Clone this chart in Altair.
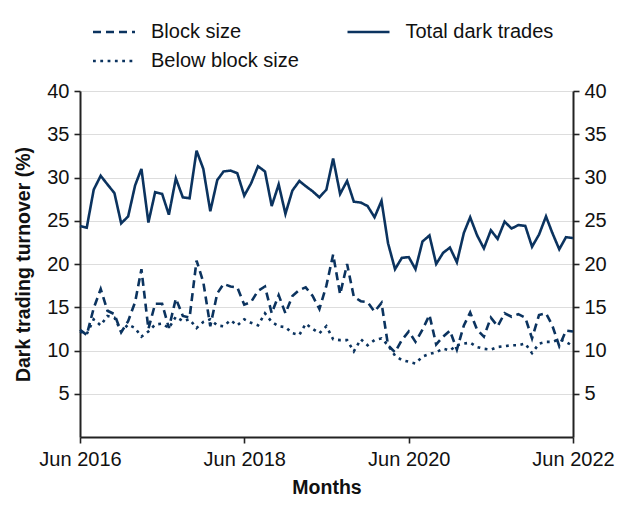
import altair as alt
import pandas as pd

months = pd.date_range("2016-06-01", periods=73, freq="MS")

total = [24.4, 24.2, 28.6, 30.2, 29.2, 28.2, 24.7, 25.5, 29.1, 31.0,
         24.8, 28.3, 28.1, 25.7, 29.9, 27.7, 27.6, 33.1, 31.0, 26.1,
         29.7, 30.7, 30.8, 30.5, 27.9, 29.3, 31.3, 30.7, 26.7, 29.2,
         25.8, 28.5, 29.6, 29.0, 28.4, 27.7, 28.6, 32.2, 28.1, 29.6,
         27.2, 27.1, 26.7, 25.4, 27.3, 22.4, 19.4, 20.7, 20.8, 19.4,
         22.6, 23.3, 20.0, 21.3, 21.9, 20.2, 23.6, 25.4, 23.3, 21.8,
         23.9, 22.9, 24.9, 24.1, 24.5, 24.4, 22.0, 23.4, 25.5, 23.6,
         21.7, 23.1, 23.0]

block = [12.4, 11.8, 14.9, 17.1, 14.6, 14.2, 12.1, 13.4, 15.6, 19.4,
         12.5, 15.4, 15.4, 12.6, 16.0, 14.0, 13.8, 20.4, 17.9, 12.8,
         16.6, 17.7, 17.4, 17.3, 15.3, 15.6, 16.9, 17.4, 14.3, 16.4,
         14.3, 16.3, 17.0, 17.3, 16.3, 14.8, 17.5, 21.1, 16.5, 20.0,
         16.2, 15.7, 15.6, 14.5, 15.5, 10.6, 9.8, 11.2, 12.2, 11.0,
         12.4, 14.1, 10.7, 11.6, 12.3, 10.1, 12.9, 14.4, 12.4, 11.6,
         13.8, 12.8, 14.3, 13.9, 14.2, 13.8, 11.4, 14.1, 14.3, 12.9,
         10.5, 12.3, 12.2]

below = [12.2, 11.9, 13.6, 12.9, 14.0, 13.8, 12.2, 13.0, 12.6, 11.6,
         12.2, 13.0, 13.1, 12.6, 13.9, 13.4, 13.6, 12.6, 13.3, 13.6,
         12.9, 12.8, 13.5, 12.9, 13.6, 13.2, 12.9, 14.3, 13.3, 12.8,
         12.7, 12.0, 11.8, 13.1, 12.5, 12.0, 12.8, 11.3, 11.2, 11.2,
         9.9, 11.3, 10.6, 11.2, 11.4, 10.6, 9.4, 8.9, 8.7, 8.5,
         9.3, 9.6, 9.8, 10.2, 10.0, 10.6, 10.8, 10.9, 10.4, 10.2,
         10.1, 10.4, 10.5, 10.6, 10.6, 10.8, 9.7, 10.8, 11.0, 11.0,
         11.3, 11.0, 10.5]

series_names = ["Block size", "Below block size", "Total dark trades"]
series_values = [block, below, total]
dash_patterns = [[8, 5], [2.8, 4.5], [1, 0]]
y_ticks = [5, 10, 15, 20, 25, 30, 35, 40]
x_tick_years = [2016, 2018, 2020, 2022]

df = pd.concat(
    [pd.DataFrame({"date": months, "series": n, "value": v})
     for n, v in zip(series_names, series_values)],
    ignore_index=True,
)
df_total = df[df["series"] == "Total dark trades"]

NAVY = "#0b335f"
FONT = "Liberation Sans"
FS = 20

x_domain = [alt.DateTime(year=2016, month=6, date=1),
            alt.DateTime(year=2022, month=6, date=1)]

x_enc = alt.X(
    "date:T",
    title="Months",
    scale=alt.Scale(domain=x_domain, nice=False),
    axis=alt.Axis(
        values=[alt.DateTime(year=y, month=6, date=1) for y in x_tick_years],
        format="%b %Y",
        grid=False,
        labelFlush=False,
        labelOverlap=False,
        labelPadding=6,
        tickSize=6,
        titlePadding=9,
    ),
)

y_scale = alt.Scale(domain=[0, 40], nice=False, zero=True)

lines = alt.Chart(df).mark_line(strokeWidth=2.6, color=NAVY, strokeCap="butt").encode(
    x=x_enc,
    y=alt.Y(
        "value:Q",
        title="Dark trading turnover (%)",
        scale=y_scale,
        axis=alt.Axis(values=y_ticks, grid=True, orient="left", tickSize=6,
                      labelPadding=5, titlePadding=13),
    ),
    strokeDash=alt.StrokeDash(
        "series:N",
        sort=series_names,
        scale=alt.Scale(domain=series_names, range=dash_patterns),
        legend=alt.Legend(
            title=None,
            orient="none",
            legendX=22,
            legendY=-71,
            columns=2,
            symbolType="M-2,0L2,0",
            symbolSize=441,
            symbolStrokeWidth=2.6,
            symbolStrokeColor=NAVY,
            labelFontSize=FS,
            labelFont=FONT,
            labelColor="#111111",
            labelOffset=25,
            columnPadding=42.5,
            rowPadding=7,
            padding=0,
        ),
    ),
)

right_axis = alt.Chart(df_total).mark_line(strokeOpacity=0).encode(
    x=alt.X("date:T", scale=alt.Scale(domain=x_domain, nice=False)),
    y=alt.Y(
        "value:Q",
        scale=y_scale,
        axis=alt.Axis(values=y_ticks, grid=False, orient="right", title=None,
                      tickSize=6, labelPadding=5),
    ),
)

chart = (
    alt.layer(lines, right_axis)
    .resolve_axis(y="independent")
    .properties(
        width=493,
        height=346,
        padding={"left": 72, "top": 83, "right": 51, "bottom": 60},
        autosize=alt.AutoSizeParams(type="none"),
    )
    .configure_view(stroke="transparent")
    .configure_axis(
        labelFont=FONT,
        labelFontSize=FS,
        labelColor="#111111",
        titleFont=FONT,
        titleFontSize=19.5,
        titleFontWeight="bold",
        titleColor="#111111",
        domainColor="#222222",
        domainWidth=2,
        tickColor="#222222",
        tickWidth=1.6,
        gridColor="#dddddd",
        gridWidth=1.2,
    )
)

chart.save("out.html", embed_options={"renderer": "svg", "actions": False})
